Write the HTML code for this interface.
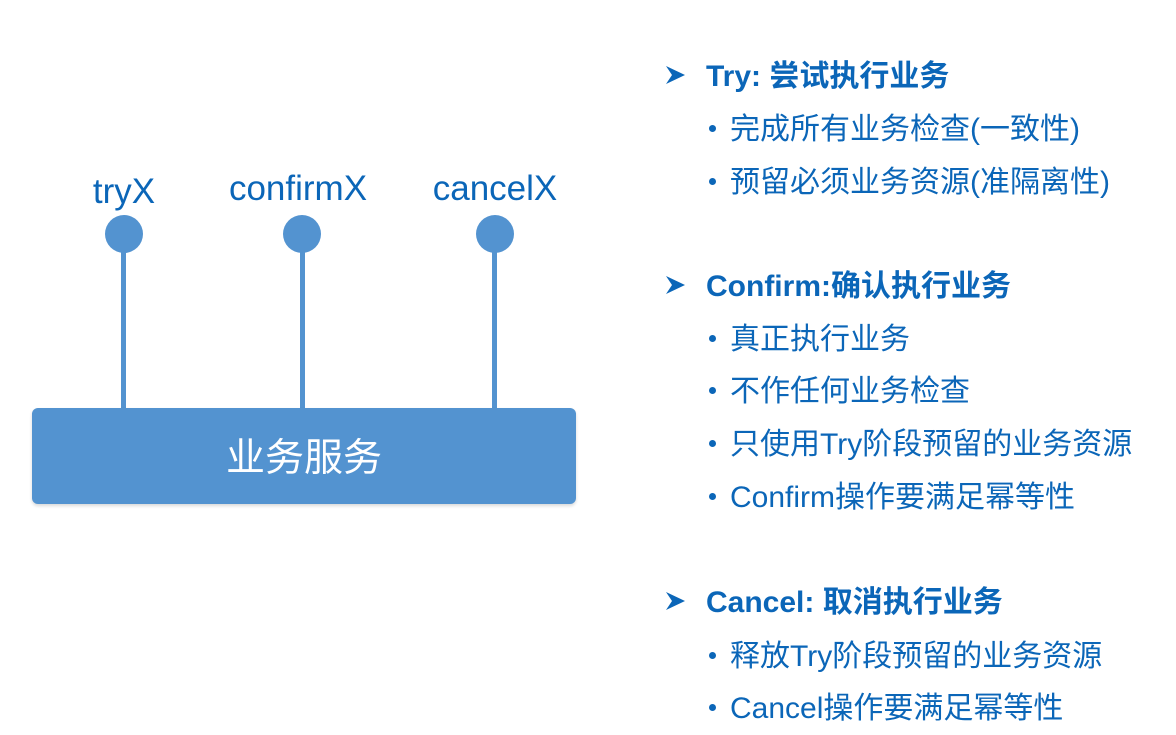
<!DOCTYPE html>
<html><head><meta charset="utf-8"><style>
html,body{margin:0;padding:0;background:#fff;}
body{width:1176px;height:735px;position:relative;overflow:hidden;font-family:"Liberation Sans","Noto Sans CJK SC",sans-serif;color:#0b66b8;}
.t{position:absolute;white-space:nowrap;line-height:1;}
.lbl{font-size:35px;transform:translateX(-50%);}
.c{position:absolute;width:38px;height:38px;border-radius:50%;background:#5393d0;}
.l{position:absolute;width:5px;background:#5393d0;}
.h{font-size:30px;font-weight:bold;left:706px;}
.b{font-size:30px;left:730px;}
.dot{position:absolute;width:7px;height:7px;border-radius:50%;background:#0b66b8;left:709px;}
.ar{position:absolute;left:666px;}
</style></head><body>
<div class="t lbl" style="left:124px;top:174px">tryX</div>
<div class="t lbl" style="left:298px;top:171px">confirmX</div>
<div class="t lbl" style="left:495px;top:171px">cancelX</div>
<div class="l" style="left:121px;top:234px;height:176px"></div>
<div class="l" style="left:300px;top:234px;height:176px"></div>
<div class="l" style="left:492px;top:234px;height:176px"></div>
<div class="c" style="left:105px;top:215px"></div>
<div class="c" style="left:283px;top:215px"></div>
<div class="c" style="left:476px;top:215px"></div>
<div style="position:absolute;left:32px;top:408px;width:544px;height:96px;border-radius:6px;background:#5393d0;box-shadow:0 2px 3px rgba(0,0,0,0.15);"></div>
<div class="t" style="left:32px;width:544px;text-align:center;top:439px;font-size:39px;color:#fff">业务服务</div>

<svg class="ar" style="top:64px" width="20" height="22" viewBox="0 0 20 22"><path d="M0 2 L19 11 L0 20 L6 11 Z" fill="#0b66b8"/></svg>
<svg class="ar" style="top:274px" width="20" height="22" viewBox="0 0 20 22"><path d="M0 2 L19 11 L0 20 L6 11 Z" fill="#0b66b8"/></svg>
<svg class="ar" style="top:590px" width="20" height="22" viewBox="0 0 20 22"><path d="M0 2 L19 11 L0 20 L6 11 Z" fill="#0b66b8"/></svg>

<div class="t h" style="top:62px">Try: 尝试执行业务</div>
<div class="dot" style="top:125px"></div><div class="t b" style="top:115px">完成所有业务检查(一致性)</div>
<div class="dot" style="top:178px"></div><div class="t b" style="top:168px">预留必须业务资源(准隔离性)</div>

<div class="t h" style="top:272px">Confirm:确认执行业务</div>
<div class="dot" style="top:335px"></div><div class="t b" style="top:325px">真正执行业务</div>
<div class="dot" style="top:387px"></div><div class="t b" style="top:377px">不作任何业务检查</div>
<div class="dot" style="top:440px"></div><div class="t b" style="top:430px">只使用Try阶段预留的业务资源</div>
<div class="dot" style="top:493px"></div><div class="t b" style="top:483px">Confirm操作要满足幂等性</div>

<div class="t h" style="top:588px">Cancel: 取消执行业务</div>
<div class="dot" style="top:652px"></div><div class="t b" style="top:642px">释放Try阶段预留的业务资源</div>
<div class="dot" style="top:704px"></div><div class="t b" style="top:694px">Cancel操作要满足幂等性</div>
</body></html>
